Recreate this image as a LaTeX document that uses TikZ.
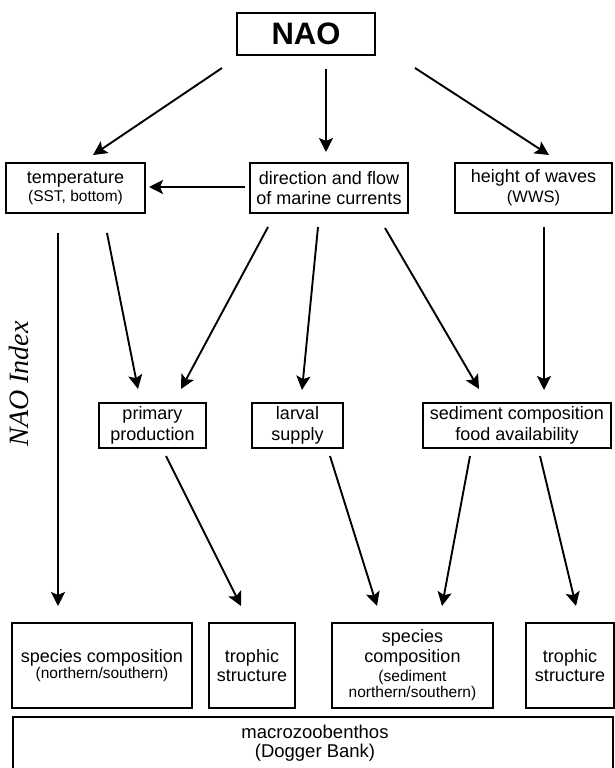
\documentclass[tikz,border=0pt]{standalone}
\usepackage{fontspec}
\setmainfont{Liberation Sans}
\newfontfamily\idxfont{Liberation Serif}
\usetikzlibrary{arrows.meta}
\newcommand\smtxt{\fontsize{15.5}{17}\selectfont}
\begin{document}
\begin{tikzpicture}[x=1pt,y=-1pt,
  box/.style={draw, line width=1.9pt, inner sep=0pt, align=center, font=\fontsize{18}{20}\selectfont},
  arr/.style={line width=1.9pt, -{Stealth[length=14pt,width=14pt,inset=3pt]}},
]
\useasboundingbox (0,0) rectangle (615,768);

% top
\node[box, minimum width=138, minimum height=42] (nao) at (306,34) {\fontsize{31}{34}\selectfont\bfseries NAO};

% row 2
\node[box, minimum width=139, minimum height=50] (temp) at (75.5,188) {temperature\\[-2pt]{\smtxt (SST, bottom)}};
\node[box, minimum width=158, minimum height=50] (dir) at (329,188) {direction and flow\\of marine currents};
\node[box, minimum width=157, minimum height=50] (height) at (533.5,188) {height of waves\\{\fontsize{16.5}{18}\selectfont (WWS)}};

% row 3
\node[box, minimum width=107, minimum height=45] (prim) at (152.5,425.5) {primary\\[1pt]production};
\node[box, minimum width=91, minimum height=45] (larv) at (297.5,425.5) {larval\\[1pt]supply};
\node[box, minimum width=188, minimum height=45] (sed) at (517,425.5) {sediment composition\\[1pt]food availability};

% row 4
\node[box, minimum width=180, minimum height=85] (sp1) at (102,665.5) {species composition\\[-4pt]{\smtxt (northern/southern)}};
\node[box, minimum width=86, minimum height=85] (tr1) at (252,665.5) {trophic\\[-1pt]structure};
\node[box, minimum width=161, minimum height=85] (sp2) at (412.5,665.5) {species\\composition\\[-1pt]{\smtxt (sediment}\\[-4pt]{\smtxt northern/southern)}};
\node[box, minimum width=88, minimum height=85] (tr2) at (570,665.5) {trophic\\[-1pt]structure};

% base box
\node[box, minimum width=600, minimum height=80, anchor=north] (macro) at (313,716) {};
\node[align=center, inner sep=0pt, font=\fontsize{18.5}{19.5}\selectfont] (macrotext) at (315,743) {macrozoobenthos\\(Dogger Bank)};

% side label
\node[rotate=90, anchor=base, inner sep=0pt, font=\idxfont\itshape\fontsize{28}{30}\selectfont] (idx) at (28,384) {NAO Index};

% arrow end points
\coordinate (a1s) at (222,68);  \coordinate (a1e) at (93,155);
\coordinate (a2s) at (326,69);  \coordinate (a2e) at (326,152);
\coordinate (a3s) at (415,68);  \coordinate (a3e) at (549,155);
\coordinate (a4s) at (245,187); \coordinate (a4e) at (149,187);
\coordinate (a5s) at (58,233);  \coordinate (a5e) at (58,606);
\coordinate (a6s) at (107,233); \coordinate (a6e) at (138,389);
\coordinate (a7s) at (268,227); \coordinate (a7e) at (181,389);
\coordinate (a8s) at (318,227); \coordinate (a8e) at (302,390);
\coordinate (a9s) at (385,228); \coordinate (a9e) at (479,389);
\coordinate (a10s) at (544,227); \coordinate (a10e) at (544,390);
\coordinate (a11s) at (166,456); \coordinate (a11e) at (241,606);
\coordinate (a12s) at (330,456); \coordinate (a12e) at (377,606);
\coordinate (a13s) at (470,456); \coordinate (a13e) at (442,606);
\coordinate (a14s) at (540,456); \coordinate (a14e) at (576,606);

\foreach \i in {1,...,14} {\draw[arr] (a\i s) -- (a\i e);}
\end{tikzpicture}
\end{document}
